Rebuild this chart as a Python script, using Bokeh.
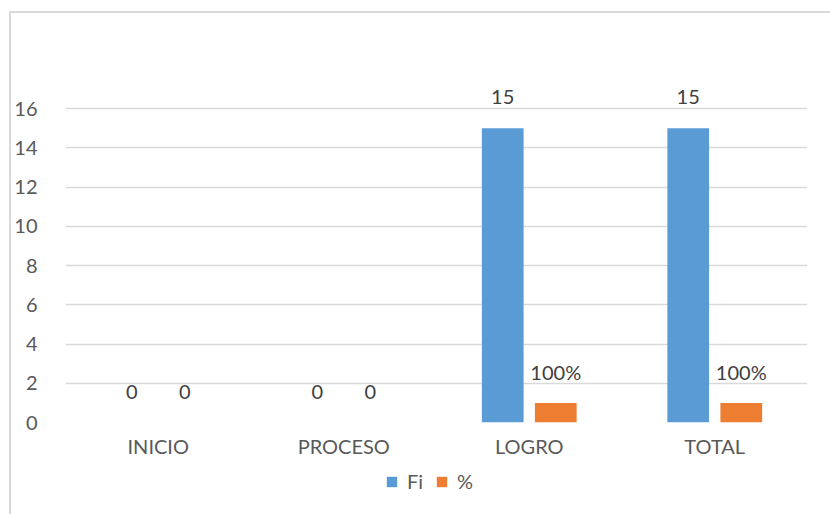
from bokeh.plotting import figure
from bokeh.models import (ColumnDataSource, FactorRange, Range1d, FixedTicker, Legend,
                          LegendItem)
from bokeh.layouts import column
from bokeh.transform import dodge
from bokeh.embed import file_html
from bokeh.resources import INLINE
from bokeh.core.properties import value

categories = ["INICIO", "PROCESO", "LOGRO", "TOTAL"]
fi_values = [0, 0, 15, 15]
pct_values = [0, 0, 1, 1]
fi_labels = ["0", "0", "15", "15"]
pct_labels = ["0", "0", "100%", "100%"]
y_ticks = [0, 2, 4, 6, 8, 10, 12, 14, 16]
series_names = ["Fi", "%"]

BLUE = "#5B9BD5"
ORANGE = "#ED7D31"
FONT = "Lato"

src = ColumnDataSource(dict(cat=categories, fi=fi_values, pct=pct_values,
                            fi_lab=fi_labels, pct_lab=pct_labels))

p = figure(x_range=FactorRange(*categories, range_padding=0), y_range=Range1d(0, 18),
           width=819, height=449, output_backend="svg", toolbar_location=None,
           min_border_left=48, min_border_right=23, min_border_top=56, min_border_bottom=40)

off = 0.143
bw = 0.225
r1 = p.vbar(x=dodge("cat", -off, range=p.x_range), top="fi", width=bw, source=src,
            fill_color=BLUE, line_color=None)
r2 = p.vbar(x=dodge("cat", off, range=p.x_range), top="pct", width=bw, source=src,
            fill_color=ORANGE, line_color=None)

for col, lab, o in [("fi", "fi_lab", -off), ("pct", "pct_lab", off)]:
    p.text(x=dodge("cat", o, range=p.x_range), y=col, text=lab, source=src,
           text_align="center", text_baseline="alphabetic", y_offset=-31,
           text_font=value(FONT), text_font_size="20px", text_color="#404040")

p.yaxis.ticker = FixedTicker(ticks=y_ticks)
p.ygrid.ticker = FixedTicker(ticks=y_ticks)
p.ygrid.grid_line_color = "#d9d9d9"
p.ygrid.grid_line_width = 1.5
p.xgrid.grid_line_color = None
p.outline_line_color = None

for ax in (p.xaxis[0], p.yaxis[0]):
    ax.axis_line_color = None
    ax.major_tick_line_color = None
    ax.minor_tick_line_color = None
    ax.major_label_text_font = FONT
    ax.major_label_text_font_size = "20px"
    ax.major_label_text_color = "#595959"
p.yaxis.major_label_standoff = 22
p.xaxis.major_label_standoff = 5

# legend strip: same bars, drawn outside its visible range, only their legend swatches show
p2 = figure(width=819, height=52, output_backend="svg", toolbar_location=None,
            x_range=FactorRange(*categories), y_range=Range1d(100, 101),
            x_axis_location=None, y_axis_location=None,
            min_border_left=0, min_border_right=0, min_border_top=0, min_border_bottom=0)
p2.grid.visible = False
p2.outline_line_color = None
lg1 = p2.vbar(x=dodge("cat", -off, range=p2.x_range), top="fi", width=bw, source=src,
              fill_color=BLUE, line_color=None)
lg2 = p2.vbar(x=dodge("cat", off, range=p2.x_range), top="pct", width=bw, source=src,
              fill_color=ORANGE, line_color=None)

legend = Legend(items=[LegendItem(label=series_names[0], renderers=[lg1]),
                       LegendItem(label=series_names[1], renderers=[lg2])],
                orientation="horizontal", location=(320, 21),
                glyph_width=13, glyph_height=13, label_standoff=9, spacing=8,
                label_text_font=FONT, label_text_font_size="20px", label_text_color="#595959",
                label_text_baseline="bottom",
                border_line_color=None, background_fill_alpha=0, margin=0, padding=0)
p2.add_layout(legend)

layout = column(p, p2, spacing=0,
                styles={"margin-left": "9px", "margin-top": "11px",
                        "border-left": "2px solid #d9d9d9", "border-top": "2px solid #d9d9d9"})

open("out.html", "w").write(file_html(layout, INLINE))
